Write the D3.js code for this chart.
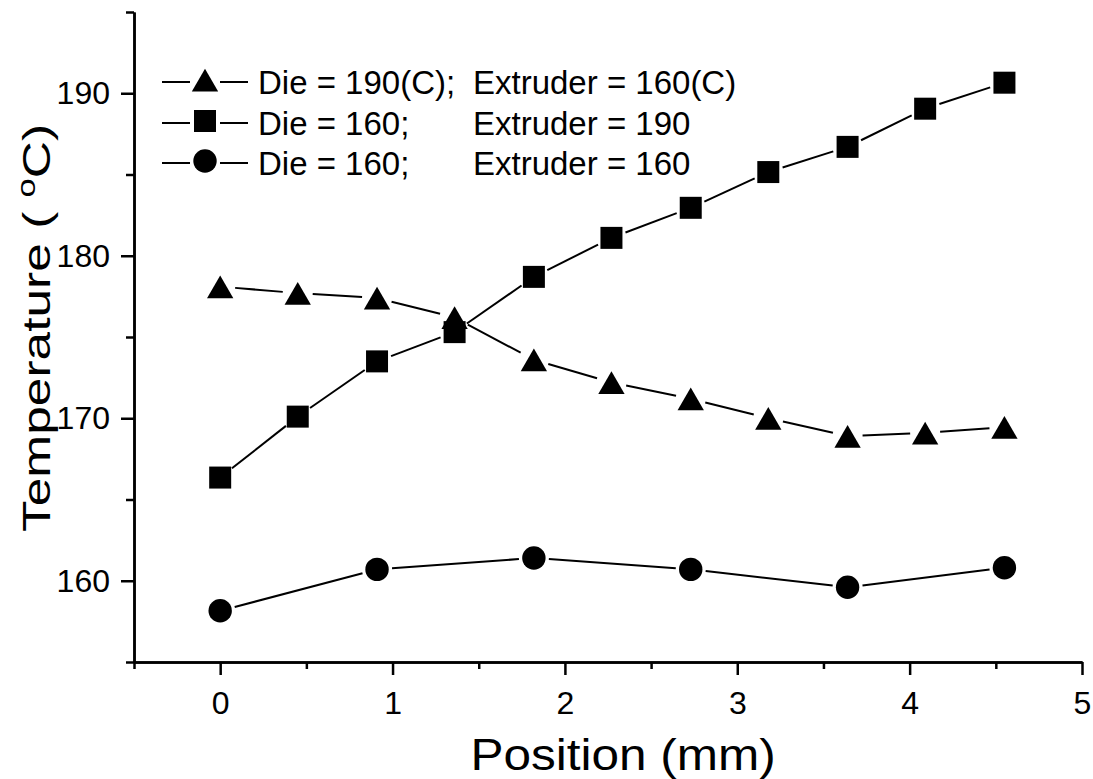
<!DOCTYPE html>
<html>
<head>
<meta charset="utf-8">
<script src="https://cdn.jsdelivr.net/npm/d3@7"></script>
<style>
  body { margin: 0; background: #fff; }
  text { font-family: "Liberation Sans", Arial, sans-serif; fill: #000; }
</style>
</head>
<body>
<div id="chart"></div>
<script>
// positions along the die (mm)
const positions = [0, 0.45, 0.91, 1.36, 1.82, 2.27, 2.73, 3.18, 3.64, 4.09, 4.55];
const circlePositions = [0, 0.91, 1.82, 2.73, 3.64, 4.55];

// temperatures (C)
const die190ext160 = [178.1, 177.7, 177.4, 176.2, 173.6, 172.2, 171.2, 170.0, 168.9, 169.1, 169.45];
const die160ext190 = [166.35, 170.1, 173.5, 175.3, 178.7, 181.1, 182.95, 185.15, 186.7, 189.05, 190.65];
const die160ext160 = [158.15, 160.7, 161.4, 160.7, 159.6, 160.8];

const xTicks = [0, 1, 2, 3, 4, 5];
const xMinor = [-0.5, 0.5, 1.5, 2.5, 3.5, 4.5];
const yTicks = [160, 170, 180, 190];
const yMinor = [155, 165, 175, 185, 195];

const dieLabels = ['Die = 190(C);', 'Die = 160;', 'Die = 160;'];
const extruderLabels = ['Extruder = 160(C)', 'Extruder = 190', 'Extruder = 160'];

const width = 1093, height = 779;

let svg = d3.select('#chart').append('svg')
    .attr('width', width)
    .attr('height', height);

let x = d3.scaleLinear().domain([-0.5, 5]).range([134, 1082]);
let y = d3.scaleLinear().domain([155, 195]).range([662, 12]);

// axes
svg.append('g')
    .attr('transform', 'translate(0,' + y(155) + ')')
    .call(d3.axisBottom(x).tickValues(xTicks).tickSize(13).tickPadding(16)
        .tickFormat(d3.format('d')).tickSizeOuter(0));
svg.append('g')
    .attr('transform', 'translate(0,' + y(155) + ')')
    .call(d3.axisBottom(x).tickValues(xMinor).tickSize(7).tickFormat('').tickSizeOuter(0));

svg.append('g')
    .attr('transform', 'translate(' + x(-0.5) + ',0)')
    .call(d3.axisLeft(y).tickValues(yTicks).tickSize(13).tickPadding(11)
        .tickFormat(d3.format('d')).tickSizeOuter(0));
svg.append('g')
    .attr('transform', 'translate(' + x(-0.5) + ',0)')
    .call(d3.axisLeft(y).tickValues(yMinor).tickSize(8).tickFormat('').tickSizeOuter(0));

svg.selectAll('.domain').attr('stroke', '#000').attr('stroke-width', 2.5);
svg.selectAll('.tick line').attr('stroke', '#000').attr('stroke-width', 2.5);
svg.selectAll('.tick text').attr('font-size', 32).attr('font-family', '"Liberation Sans", Arial, sans-serif');

// axis titles
svg.append('text')
    .attr('transform', 'translate(623,770) scale(1.1,1)')
    .attr('text-anchor', 'middle')
    .attr('font-size', 45)
    .text('Position (mm)');

let yTitle = svg.append('text')
    .attr('transform', 'translate(50,328) rotate(-90) scale(1.32,1)')
    .attr('text-anchor', 'middle')
    .attr('font-size', 39);
yTitle.append('tspan').text('Temperature ( ');
yTitle.append('tspan').attr('font-size', 26).attr('dy', -15).text('o');
yTitle.append('tspan').attr('dy', 15).text('C)');

// series
let series = [
    { xs: positions, ys: die190ext160, shape: d3.symbolTriangle, size: 300 },
    { xs: positions, ys: die160ext190, shape: d3.symbolSquare, size: 484 },
    { xs: circlePositions, ys: die160ext160, shape: d3.symbolCircle, size: 430 }
];

const gap = 15;

series.forEach(function(s) {
    let pts = s.xs.map(function(d, i) { return [x(d), y(s.ys[i])]; });
    for (let i = 0; i < pts.length - 1; i++) {
        let p = pts[i], q = pts[i + 1];
        let dx = q[0] - p[0], dy = q[1] - p[1];
        let len = Math.sqrt(dx * dx + dy * dy);
        let ux = dx / len, uy = dy / len;
        svg.append('line')
            .attr('x1', p[0] + ux * gap).attr('y1', p[1] + uy * gap)
            .attr('x2', q[0] - ux * gap).attr('y2', q[1] - uy * gap)
            .attr('stroke', '#000').attr('stroke-width', 2);
    }
    // triangle: shift so its box is centred on the point
    let off = s.shape === d3.symbolTriangle ? 4 : 0;
    pts.forEach(function(p) {
        svg.append('path')
            .attr('d', d3.symbol().type(s.shape).size(s.size)())
            .attr('transform', 'translate(' + p[0] + ',' + (p[1] + off) + ')')
            .attr('fill', '#000');
    });
});

// legend
let legendY = [82, 123, 163];
series.forEach(function(s, i) {
    let g = svg.append('g').attr('transform', 'translate(0,' + legendY[i] + ')');
    g.append('line').attr('x1', 162).attr('x2', 190).attr('y1', 0).attr('y2', 0)
        .attr('stroke', '#000').attr('stroke-width', 2);
    g.append('line').attr('x1', 220).attr('x2', 248).attr('y1', 0).attr('y2', 0)
        .attr('stroke', '#000').attr('stroke-width', 2);
    let off = s.shape === d3.symbolTriangle ? 4 : 0;
    g.append('path')
        .attr('d', d3.symbol().type(s.shape).size(s.size)())
        .attr('transform', 'translate(205,' + (off - 2) + ')')
        .attr('fill', '#000');
    g.append('text').attr('x', 258).attr('y', 12).attr('font-size', 33).text(dieLabels[i]);
    g.append('text').attr('x', 473).attr('y', 12).attr('font-size', 33).text(extruderLabels[i]);
});
</script>
</body>
</html>
